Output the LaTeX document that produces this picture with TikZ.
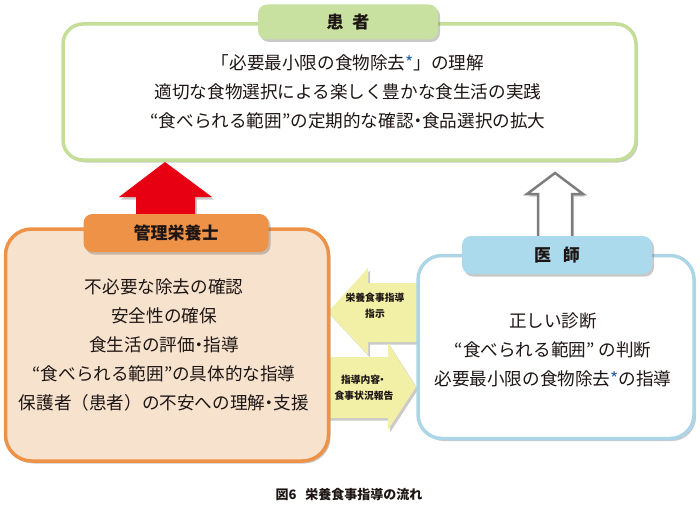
\documentclass[tikz,border=0pt]{standalone}
\usepackage{fontspec}
\setmainfont{Noto Sans CJK JP}
\usetikzlibrary{shadows}
\definecolor{pgreen}{RGB}{196,222,152}
\definecolor{pgreentab}{RGB}{200,225,160}
\definecolor{dorange}{RGB}{238,146,72}
\definecolor{dbeige}{RGB}{247,226,206}
\definecolor{dblue}{RGB}{172,214,232}
\definecolor{dbluetab}{RGB}{170,218,236}
\definecolor{ayellow}{RGB}{242,240,166}
\definecolor{ared}{RGB}{230,0,18}
\definecolor{agray}{RGB}{125,125,125}
\definecolor{starblue}{RGB}{40,100,170}
\definecolor{txt}{RGB}{30,22,20}
\tikzset{
  shad/.style={drop shadow={shadow xshift=2pt,shadow yshift=-2.5pt,opacity=0.35,fill=black!60}},
  mainbox/.style={rounded corners=20pt,line width=3.5pt,inner sep=0pt,shad},
  boxtext/.style={align=center,font=\fontsize{17.6}{29}\selectfont,text=txt},
  tabbox/.style={rounded corners=9pt,inner sep=0pt,shad,
     font=\fontsize{17}{20}\selectfont\bfseries,text=txt},
  arrowtext/.style={align=center,font=\fontsize{9.8}{16}\selectfont\bfseries,text=txt},
  blockarrow/.style={shad}
}
\newcommand{\bstar}{{\color{starblue}*}}
\newcommand{\nkg}{\kern-4.5pt・\kern-4.5pt}
\begin{document}
\begin{tikzpicture}[x=1pt,y=-1pt]
\useasboundingbox (0,0) rectangle (700,508);
% yellow arrows
\fill[ayellow,blockarrow] (328,312) -- (368,268) -- (368,283) -- (422,283) -- (422,342) -- (368,342) -- (368,355) -- cycle;
\fill[ayellow,blockarrow] (416,387) -- (388,343) -- (388,357) -- (325,357) -- (325,418) -- (388,418) -- (388,430) -- cycle;
\node[arrowtext] (lbl1) at (375,306) {栄養食事指導\\指示};
\node[arrowtext] (lbl2) at (364,388) {指導内容\kern-3pt・\\食事状況報告};
% red arrow
\fill[ared,blockarrow] (165,162) -- (212,197) -- (195,197) -- (195,222) -- (136,222) -- (136,197) -- (119,197) -- cycle;
% gray hollow arrow
\filldraw[fill=white,draw=agray,line width=2.5pt,line join=miter,blockarrow] (555,173) -- (583,194) -- (572,194) -- (572,240) -- (538,240) -- (538,194) -- (527,194) -- cycle;
% patient
\node[mainbox,draw=pgreen,fill=white,minimum width=573pt,minimum height=136pt] (patient) at (349.5,92) {};
\node[boxtext] (ptxt) at (348,92)
  {「必要最小限の食物除去\bstar」の理解\\適切な食物選択による楽しく豊かな食生活の実践\\“食べられる範囲”の定期的な確認\nkg 食品選択の拡大};
\node[tabbox,fill=pgreentab,minimum width=180pt,minimum height=35pt] (ptab) at (348,22) {患\hspace{9pt}者};
% dietitian
\node[mainbox,draw=dorange,fill=dbeige,minimum width=323pt,minimum height=232pt,rounded corners=26pt] (diet) at (167,345) {};
\node[boxtext] (dtxt) at (164,345)
  {不必要な除去の確認\\安全性の確保\\食生活の評価\nkg 指導\\“食べられる範囲”の具体的な指導\\保護者（患者）の不安への理解\nkg 支援};
\node[tabbox,fill=dorange,minimum width=185pt,minimum height=38pt] (dtab) at (176,233) {管理栄養士};
% doctor
\node[mainbox,draw=dblue,fill=white,minimum width=276pt,minimum height=183pt,rounded corners=24pt] (doc) at (556,347) {};
\node[boxtext] (doctxt) at (553,350)
  {正しい診断\\“食べられる範囲” の判断\\必要最小限の食物除去\bstar の指導};
\node[tabbox,fill=dbluetab,minimum width=190pt,minimum height=38pt] (doctab) at (557,255) {医\hspace{12pt}師};
% caption
\node[font=\fontsize{13}{15}\selectfont\bfseries,text=txt] (cap) at (349,495) {図6\hspace{9pt}栄養食事指導の流れ};
\end{tikzpicture}
\end{document}
